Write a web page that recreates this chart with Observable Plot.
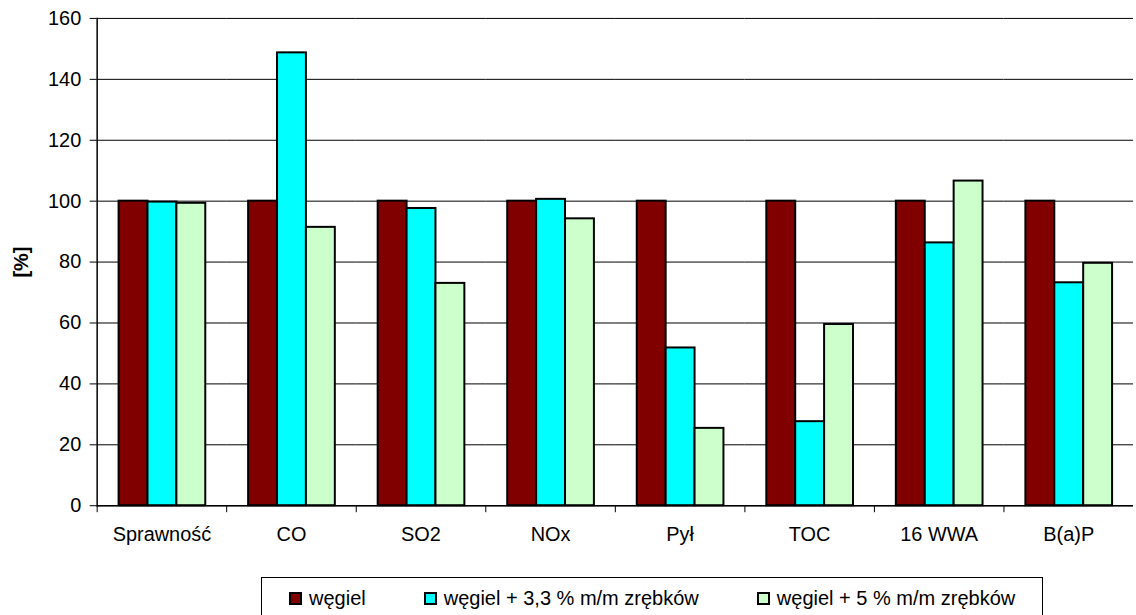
<!DOCTYPE html>
<html>
<head>
<meta charset="utf-8">
<script src="https://cdn.jsdelivr.net/npm/d3@7"></script>
<script src="https://cdn.jsdelivr.net/npm/@observablehq/plot@0.6"></script>
<style>
  html, body { margin: 0; padding: 0; background: #fff; overflow: hidden; }
  #wrap { position: relative; width: 1136px; height: 615px; overflow: hidden; font-family: "Liberation Sans", Arial, sans-serif; }
  #chart svg { display: block; }
  g[aria-label="y-axis label"] text { font-weight: bold; }
  #legend {
    position: absolute; left: 261px; top: 577px; width: 782px; height: 60px;
    border: 1px solid #000; box-sizing: border-box;
    display: flex; align-items: flex-start; gap: 58px;
    padding-left: 27px; padding-top: 10px;
    font-size: 20px; line-height: 20px; color: #000;
  }
  #legend .item { display: flex; align-items: center; height: 20px; }
  #legend .sw { width: 13px; height: 13px; box-sizing: border-box; border: 2px solid #000; margin-right: 7px; }
</style>
</head>
<body>
<div id="wrap">
  <div id="chart"></div>
  <div id="legend"></div>
</div>
<script>
const categories = ["Sprawność", "CO", "SO2", "NOx", "Pył", "TOC", "16 WWA", "B(a)P"];
const seriesNames = ["węgiel", "węgiel + 3,3 % m/m zrębków", "węgiel + 5 % m/m zrębków"];
const seriesColors = ["#800000", "#00FFFF", "#CCFFCC"];
const wegiel = [100, 100, 100, 100, 100, 100, 100, 100];
const wegiel33 = [99.7, 148.7, 97.6, 100.6, 51.8, 27.6, 86.3, 73.2];
const wegiel5 = [99.3, 91.4, 73.0, 94.2, 25.4, 59.5, 106.6, 79.6];
const yTicks = [0, 20, 40, 60, 80, 100, 120, 140, 160];

const seriesValues = [wegiel, wegiel33, wegiel5];
const data = [];
categories.forEach((c, i) => {
  seriesNames.forEach((s, j) => data.push({cat: c, series: s, value: seriesValues[j][i]}));
});

const plot = Plot.plot({
  width: 1140,
  height: 570,
  marginLeft: 93,
  marginRight: 0,
  marginTop: 18,
  marginBottom: 63,
  style: {fontFamily: "'Liberation Sans', Arial, sans-serif", fontSize: "20px", color: "#000", background: "#fff"},
  fx: {domain: categories, padding: 0, label: null},
  x: {domain: seriesNames, paddingInner: 0, paddingOuter: 0.73, axis: null},
  y: {domain: [0, 160], label: null},
  color: {domain: seriesNames, range: seriesColors},
  marks: [
    Plot.ruleY(yTicks, {stroke: "#000", strokeWidth: 1}),
    Plot.barY(data, {fx: "cat", x: "series", y: "value", fill: "series", stroke: "#000", strokeWidth: 2}),
    Plot.ruleY([0], {stroke: "#000", strokeWidth: 1.5}),
    Plot.frame({anchor: "left", stroke: "#000", strokeWidth: 1.5, fx: () => categories[0]}),
    Plot.frame({anchor: "left", stroke: "#000", strokeWidth: 1, insetTop: 489, insetBottom: -6}),
    Plot.axisY({ticks: yTicks, tickSize: 7, tickPadding: 9, label: "[%]", labelArrow: "none", labelAnchor: "center", labelOffset: 84, fontSize: 20, stroke: "#000"}),
    Plot.axisFx({anchor: "bottom", tickSize: 0, tickPadding: 21, fontSize: 20, label: null})
  ]
});
document.getElementById("chart").appendChild(plot);

const legend = document.getElementById("legend");
seriesNames.forEach((s, j) => {
  const item = document.createElement("div");
  item.className = "item";
  const sw = document.createElement("div");
  sw.className = "sw";
  sw.style.background = seriesColors[j];
  const t = document.createElement("span");
  t.textContent = s;
  item.appendChild(sw);
  item.appendChild(t);
  legend.appendChild(item);
});
</script>
</body>
</html>
